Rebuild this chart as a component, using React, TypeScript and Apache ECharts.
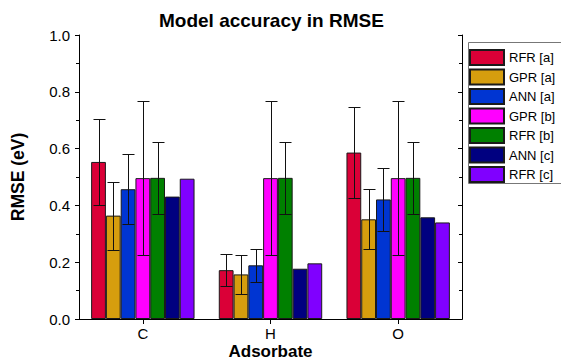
import React, { useEffect, useRef } from "react";
import * as echarts from "echarts";

const categories = ["C", "H", "O"];
const modelNames = ["RFR [a]", "GPR [a]", "ANN [a]", "GPR [b]", "RFR [b]", "ANN [c]", "RFR [c]"];
const modelColors = ["#DA0037", "#D69E0E", "#0035D2", "#FF00FF", "#008000", "#000080", "#8000FF"];

const rfrA = [0.553, 0.172, 0.586];
const gprA = [0.364, 0.157, 0.351];
const annA = [0.457, 0.189, 0.421];
const gprB = [0.496, 0.496, 0.496];
const rfrB = [0.497, 0.497, 0.497];
const annC = [0.431, 0.177, 0.358];
const rfrC = [0.494, 0.196, 0.34];

const rfrAErr = [0.152, 0.056, 0.161];
const gprAErr = [0.12, 0.069, 0.105];
const annAErr = [0.124, 0.057, 0.11];
const gprBErr = [0.272, 0.272, 0.272];
const rfrBErr = [0.127, 0.127, 0.127];

const yTicks = ["0.0", "0.2", "0.4", "0.6", "0.8", "1.0"];

const seriesValues = [rfrA, gprA, annA, gprB, rfrB, annC, rfrC];
const seriesErrors: (number[] | null)[] = [rfrAErr, gprAErr, annAErr, gprBErr, rfrBErr, null, null];

const CAT_GAP = 0.19;
const FONT = "'Liberation Sans', Arial, sans-serif";

export default function App() {
  const ref = useRef<HTMLDivElement>(null);
  useEffect(() => {
    if (!ref.current) return;
    const chart = echarts.init(ref.current, undefined, { renderer: "svg" });
    const n = modelNames.length;

    const barSeries = modelNames.map((name, i) => ({
      name,
      type: "bar",
      xAxisIndex: 0,
      yAxisIndex: 0,
      data: seriesValues[i],
      barGap: "0%",
      barCategoryGap: CAT_GAP * 100 + "%",
      itemStyle: { color: modelColors[i], borderColor: "#1a1a1a", borderWidth: 1 },
      z: 2,
    }));

    const errSeries: any[] = [];
    seriesErrors.forEach((errs, k) => {
      if (!errs) return;
      errSeries.push({
        type: "custom",
        name: "err" + k,
        xAxisIndex: 0,
        yAxisIndex: 0,
        z: 5,
        silent: true,
        data: categories.map((_, ci) => [ci, seriesValues[k][ci], errs[ci]]),
        renderItem: (params: any, api: any) => {
          const ci = api.value(0);
          const v = api.value(1);
          const e = api.value(2);
          const catW = api.size([1, 0])[0];
          const groupW = catW * (1 - CAT_GAP);
          const bw = groupW / n;
          const c = api.coord([ci, v]);
          const x = Math.round(c[0] - groupW / 2 + bw * (k + 0.5)) + 0.5;
          const top = Math.round(api.coord([ci, v + e])[1]) + 0.5;
          const bot = Math.round(api.coord([ci, v - e])[1]) + 0.5;
          const hc = 6;
          const st = { stroke: "#111", lineWidth: 1 };
          return {
            type: "group",
            children: [
              { type: "line", shape: { x1: x, y1: top, x2: x, y2: bot }, style: st },
              { type: "line", shape: { x1: x - hc, y1: top, x2: x + hc, y2: top }, style: st },
              { type: "line", shape: { x1: x - hc, y1: bot, x2: x + hc, y2: bot }, style: st },
            ],
          };
        },
      });
    });

    const option: any = {
      animation: false,
      textStyle: { fontFamily: FONT },
      title: {
        text: "Model accuracy in RMSE",
        left: 159,
        top: 11,
        padding: 0,
        textStyle: { fontFamily: FONT, fontSize: 19, fontWeight: "bold", color: "#000" },
      },
      grid: { left: 79, right: 99, top: 35, bottom: 42, containLabel: false, outerBoundsMode: "none" },
      legend: {
        orient: "vertical",
        left: 469,
        top: 49,
        padding: 0,
        itemWidth: 34,
        itemHeight: 15,
        itemGap: 2.5,
        icon: "rect",
        data: modelNames,
        textStyle: { fontFamily: FONT, fontSize: 13, lineHeight: 15, color: "#000" },
      },
      graphic: [
        {
          type: "rect",
          shape: { x: 468.5, y: 42.5, width: 120, height: 141 },
          style: { fill: "none", stroke: "#777", lineWidth: 1 },
          z: -1,
        },
      ],
      xAxis: [
        {
          type: "category",
          data: categories,
          position: "bottom",
          name: "Adsorbate",
          nameLocation: "middle",
          nameGap: 24,
          nameMoveOverlap: false,
          nameTextStyle: { fontFamily: FONT, fontSize: 17, lineHeight: 17, fontWeight: "bold", color: "#000" },
          axisLine: { show: true, lineStyle: { color: "#000", width: 1 } },
          axisTick: { show: true, alignWithLabel: true, length: 5, inside: false, lineStyle: { color: "#000" } },
          axisLabel: { fontFamily: FONT, fontSize: 15, lineHeight: 14, color: "#000", margin: 7 },
          splitLine: { show: false },
        },
        {
          type: "category",
          data: categories,
          position: "top",
          axisLine: { show: true, lineStyle: { color: "#000", width: 1 } },
          axisTick: { show: true, alignWithLabel: true, length: 4, inside: true, lineStyle: { color: "#000" } },
          axisLabel: { show: false },
          splitLine: { show: false },
        },
      ],
      yAxis: [
        {
          type: "value",
          min: 0,
          max: 1,
          interval: 0.2,
          position: "left",
          name: "RMSE (eV)",
          nameLocation: "middle",
          nameGap: 52,
          nameMoveOverlap: false,
          nameTextStyle: { fontFamily: FONT, fontSize: 17.5, fontWeight: "bold", color: "#000" },
          axisLine: { show: true, lineStyle: { color: "#000", width: 1 } },
          axisTick: { show: true, length: 4, inside: false, lineStyle: { color: "#000" } },
          minorTick: { show: true, splitNumber: 2, length: 3, lineStyle: { color: "#000" } },
          axisLabel: {
            fontFamily: FONT,
            fontSize: 15,
            color: "#000",
            margin: 9,
            formatter: (v: number) => yTicks[Math.round(v / 0.2)] ?? v.toFixed(1),
          },
          splitLine: { show: false },
          minorSplitLine: { show: false },
        },
        {
          type: "value",
          min: 0,
          max: 1,
          interval: 0.2,
          position: "right",
          axisLine: { show: true, lineStyle: { color: "#000", width: 1 } },
          axisTick: { show: true, length: 4, inside: true, lineStyle: { color: "#000" } },
          minorTick: { show: true, splitNumber: 2, length: 3, lineStyle: { color: "#000" } },
          axisLabel: { show: false },
          splitLine: { show: false },
        },
      ],
      series: [...barSeries, ...errSeries],
    };
    chart.setOption(option);
    return () => chart.dispose();
  }, []);
  return <div ref={ref} style={{ width: 561, height: 361, position: "absolute", left: 0, top: 0 }} />;
}
